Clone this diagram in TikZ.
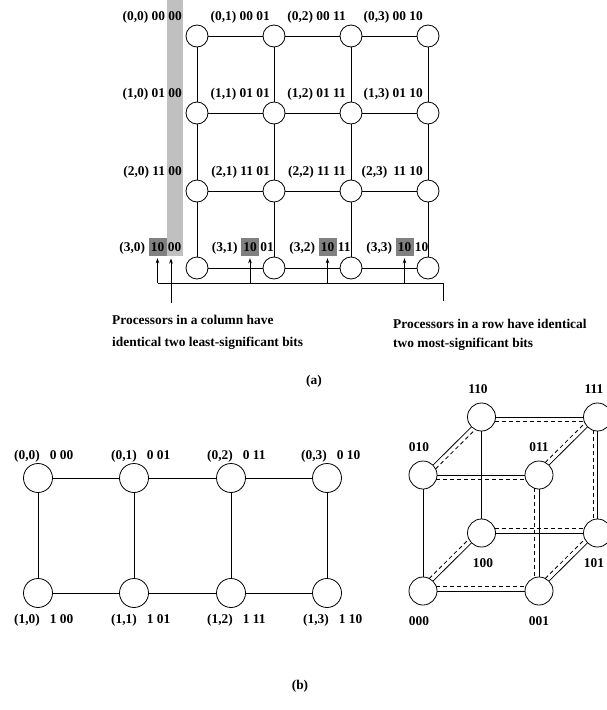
\documentclass[tikz,border=0pt]{standalone}
\usepackage{fontspec}
\setmainfont{Liberation Serif}
\usetikzlibrary{arrows.meta,calc}
\definecolor{bargray}{HTML}{C0C0C0}
\definecolor{hlgray}{HTML}{808080}
\begin{document}
\begin{tikzpicture}[x=1pt,y=-1pt,
  every node/.style={font=\fontsize{13.4}{16}\selectfont\bfseries, inner sep=0pt},
  pa/.style={circle,draw,fill=white,minimum size=22pt,line width=0.8pt},
  pb/.style={circle,draw,fill=white,minimum size=29pt,line width=0.8pt},
  pc/.style={circle,draw,fill=white,minimum size=28pt,line width=0.8pt},
  lab/.style={anchor=base east},
  labw/.style={anchor=base west},
  hl/.style={fill=hlgray,minimum width=18pt,minimum height=18pt},
  ln/.style={line width=0.8pt},
  dedge/.style={line width=0.8pt,dash pattern=on 4pt off 3pt,shorten <=13.2pt,shorten >=13.2pt},
  arr/.style={line width=0.8pt,-{Stealth[length=5pt,width=3.5pt]}},
]
\useasboundingbox (0,0) rectangle (606,710);

% ---------- (a) ----------
\fill[bargray] (167,0) rectangle (183,256);

\foreach \r/\y in {0/36,1/113,2/191,3/268}{
  \foreach \c/\x in {0/197,1/274,2/351,3/428}{
    \node[pa] (a\r\c) at (\x,\y) {};
  }
}
\foreach \r in {0,1,2,3}{
  \draw[ln] (a\r0) -- (a\r1) -- (a\r2) -- (a\r3);
  \draw[ln] (a0\r) -- (a1\r) -- (a2\r) -- (a3\r);
}

\node[lab] (l00) at (182,20.5) {(0,0) 00 00};
\node[lab] (l01) at (270,20.5) {(0,1) 00 01};
\node[lab] (l02) at (346,20.5) {(0,2) 00 11};
\node[lab] (l03) at (423,20.5) {(0,3) 00 10};
\node[lab] (l10) at (182,97.5) {(1,0) 01 00};
\node[lab] (l11) at (270,97.5) {(1,1) 01 01};
\node[lab] (l12) at (346,97.5) {(1,2) 01 11};
\node[lab] (l13) at (423,97.5) {(1,3) 01 10};
\node[lab] (l20) at (182,175.5) {(2,0) 11 00};
\node[lab] (l21) at (270,175.5) {(2,1) 11 01};
\node[lab] (l22) at (346,175.5) {(2,2) 11 11};
\node[lab] (l23) at (423,175.5) {(2,3)\hspace{6pt}11 10};

\node[hl] (h0) at (157.5,247) {10};
\node[hl] (h1) at (250,247) {10};
\node[hl] (h2) at (327.5,247) {10};
\node[hl] (h3) at (404.5,247) {10};
\node[lab] (p30) at ([xshift=-3pt]h0.base west) {(3,0)};
\node[lab] (p31) at ([xshift=-3pt]h1.base west) {(3,1)};
\node[lab] (p32) at ([xshift=-3pt]h2.base west) {(3,2)};
\node[lab] (p33) at ([xshift=-3pt]h3.base west) {(3,3)};
\node[labw] (s30) at ([xshift=1pt]h0.base east) {00};
\node[labw] (s31) at ([xshift=1pt]h1.base east) {01};
\node[labw] (s32) at ([xshift=1pt]h2.base east) {11};
\node[labw] (s33) at ([xshift=1pt]h3.base east) {10};

\coordinate (bus) at (0,283);
\coordinate (rowend) at (443,301);
\coordinate (colend) at (171,303);
\coordinate (coltip) at (171,258.5);
\draw[ln] (h0.south |- bus) -- (rowend |- bus) -- (rowend);
\draw[arr] (h0.south |- bus) -- ([yshift=-2pt]h0.south);
\draw[arr] (h1.south |- bus) -- ([yshift=-2pt]h1.south);
\draw[arr] (h2.south |- bus) -- ([yshift=-2pt]h2.south);
\draw[arr] (h3.south |- bus) -- ([yshift=-2pt]h3.south);
\draw[arr] (colend) -- (coltip);

\node[labw] (t1) at (112,324) {Processors in a column have};
\node[labw] (t2) at (112,346) {identical two least-significant bits};
\node[labw] (t3) at (393,328) {Processors in a row have identical};
\node[labw] (t4) at (393,347) {two most-significant bits};

\node (capa) at (314,381) {(a)};

% ---------- (b) mesh ----------
\foreach \c/\x in {0/38,1/134,2/231,3/327}{
  \node[pb] (m0\c) at (\x,478) {};
  \node[pb] (m1\c) at (\x,593) {};
  \draw[ln] (m0\c) -- (m1\c);
}
\draw[ln] (m00) -- (m01) -- (m02) -- (m03);
\draw[ln] (m10) -- (m11) -- (m12) -- (m13);

\node[labw] (n00) at (14,459.5) {(0,0)\hspace{10pt}0 00};
\node[labw] (n01) at (111,459.5) {(0,1)\hspace{10pt}0 01};
\node[labw] (n02) at (207,459.5) {(0,2)\hspace{10pt}0 11};
\node[labw] (n03) at (301,459.5) {(0,3)\hspace{10pt}0 10};
\node[labw] (n10) at (14,623.5) {(1,0)\hspace{10pt}1 00};
\node[labw] (n11) at (111,623.5) {(1,1)\hspace{10pt}1 01};
\node[labw] (n12) at (207,623.5) {(1,2)\hspace{10pt}1 11};
\node[labw] (n13) at (303,623.5) {(1,3)\hspace{10pt}1 10};

% ---------- (b) cube ----------
\node[pc] (c010) at (423,475) {};
\node[pc] (c011) at (539,475) {};
\node[pc] (c000) at (423,591) {};
\node[pc] (c001) at (539,591) {};
\node[pc] (c110) at (481.5,417) {};
\node[pc] (c111) at (597.5,417) {};
\node[pc] (c100) at (481.5,533) {};
\node[pc] (c101) at (597.5,533) {};

\draw[ln] (c010) -- (c011);
\draw[ln] (c110) -- (c111);
\draw[ln] (c000) -- (c001);
\draw[ln] (c100) -- (c101);
\draw[ln] (c010) -- (c000);
\draw[ln] (c011) -- (c001);
\draw[ln] (c110) -- (c100);
\draw[ln] (c111) -- (c101);
\draw[ln] (c010) -- (c110);
\draw[ln] (c011) -- (c111);
\draw[ln] (c000) -- (c100);
\draw[ln] (c001) -- (c101);

\draw[dedge] ($(c010)+(0,4.5)$) -- ($(c011)+(0,4.5)$);
\draw[dedge] ($(c110)+(0,4.5)$) -- ($(c111)+(0,4.5)$);
\draw[dedge] ($(c000)+(0,-4.5)$) -- ($(c001)+(0,-4.5)$);
\draw[dedge] ($(c100)+(0,-4.5)$) -- ($(c101)+(0,-4.5)$);
\draw[dedge] ($(c011)+(-4.5,0)$) -- ($(c001)+(-4.5,0)$);
\draw[dedge] ($(c111)+(-4.5,0)$) -- ($(c101)+(-4.5,0)$);
\draw[dedge] ($(c010)+(3.2,3.2)$) -- ($(c110)+(3.2,3.2)$);
\draw[dedge] ($(c011)+(-3.2,-3.2)$) -- ($(c111)+(-3.2,-3.2)$);
\draw[dedge] ($(c000)+(-3.2,-3.2)$) -- ($(c100)+(-3.2,-3.2)$);
\draw[dedge] ($(c001)+(-3.2,-3.2)$) -- ($(c101)+(-3.2,-3.2)$);

\node (k110) at (478,389) {110};
\node (k111) at (594,389) {111};
\node (k010) at (419,447) {010};
\node (k011) at (539,447) {011};
\node (k100) at (483,563) {100};
\node (k101) at (594,563) {101};
\node (k000) at (419,621) {000};
\node (k001) at (539,621) {001};

\node (capb) at (300,686) {(b)};
\end{tikzpicture}
\end{document}
